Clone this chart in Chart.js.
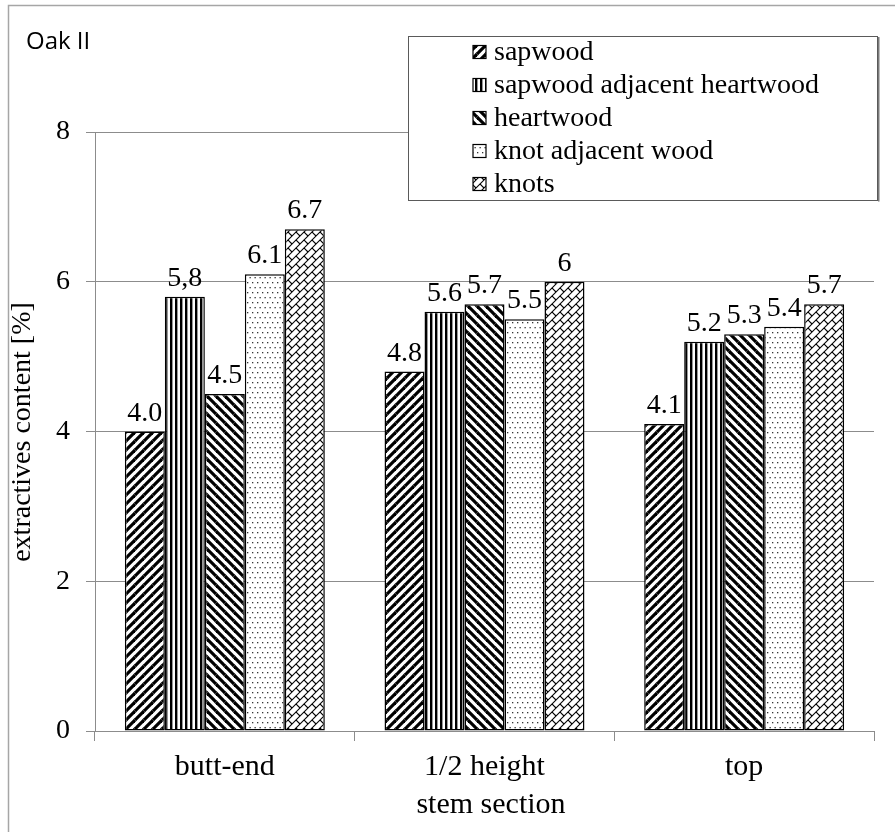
<!DOCTYPE html>
<html>
<head>
<meta charset="utf-8">
<script src="https://cdn.jsdelivr.net/npm/chart.js@4/dist/chart.umd.min.js"></script>
<style>
  html, body { margin: 0; padding: 0; background: #ffffff; }
  #wrap { position: relative; width: 895px; height: 832px; }
</style>
</head>
<body>
<div id="wrap"><canvas id="chart" width="895" height="832"></canvas></div>
<script>
// Stem sections on the x axis
const categories = ['butt-end', '1/2 height', 'top'];

// Extractives content [%] for each wood zone
const sapwood = [4.0, 4.8, 4.1];
const sapwoodAdjHeartwood = [5.8, 5.6, 5.2];
const heartwood = [4.5, 5.7, 5.3];
const knotAdjWood = [6.1, 5.5, 5.4];
const knots = [6.7, 6.0, 5.7];

// Value labels printed above the bars
const sapwoodLabels = ['4.0', '4.8', '4.1'];
const sapwoodAdjHeartwoodLabels = ['5,8', '5.6', '5.2'];
const heartwoodLabels = ['4.5', '5.7', '5.3'];
const knotAdjWoodLabels = ['6.1', '5.5', '5.4'];
const knotsLabels = ['6.7', '6', '5.7'];

// Y axis ticks
const yTicks = [0, 2, 4, 6, 8];

const SERIF = '"Liberation Serif", "Times New Roman", serif';

// ---- hatch patterns ----
function tile(size, draw) {
  const c = document.createElement('canvas');
  c.width = size; c.height = size;
  const g = c.getContext('2d');
  g.fillStyle = '#ffffff';
  g.fillRect(0, 0, size, size);
  draw(g, size);
  return c;
}
function wrapped(g, T, fn) {
  for (let dx = -T; dx <= T; dx += T)
    for (let dy = -T; dy <= T; dy += T) fn(dx, dy);
}
function makePatterns(ctx) {
  const diagUp = tile(9, (g, T) => {
    g.strokeStyle = '#000'; g.lineWidth = 3.2;
    wrapped(g, T, (dx, dy) => { g.beginPath(); g.moveTo(dx, T + dy); g.lineTo(T + dx, dy); g.stroke(); });
  });
  const vertical = tile(5, (g, T) => {
    g.fillStyle = '#000'; g.fillRect(0, 0, 2.4, T);
  });
  const diagDown = tile(9, (g, T) => {
    g.strokeStyle = '#000'; g.lineWidth = 3.2;
    wrapped(g, T, (dx, dy) => { g.beginPath(); g.moveTo(dx, dy); g.lineTo(T + dx, T + dy); g.stroke(); });
  });
  const dots = tile(10, (g, T) => {
    g.fillStyle = '#333';
    g.fillRect(2, 2, 1.3, 1.3);
    g.fillRect(7, 2, 1.3, 1.3);
    g.fillRect(4.5, 7, 1.3, 1.3);
    g.fillRect(9.5, 7, 1.3, 1.3);
    g.fillRect(-0.5, 7, 1.3, 1.3);
  });
  const bricks = tile(8, (g, T) => {
    g.strokeStyle = '#000'; g.lineWidth = 1.1;
    wrapped(g, T, (dx, dy) => {
      g.beginPath(); g.moveTo(dx, T + dy); g.lineTo(T + dx, dy); g.stroke();
      g.beginPath(); g.moveTo(dx, dy); g.lineTo(T / 2 + dx, T / 2 + dy); g.stroke();
    });
  });
  return [diagUp, vertical, diagDown, dots, bricks].map(c => ctx.createPattern(c, 'repeat'));
}

const canvas = document.getElementById('chart');
const ctx = canvas.getContext('2d');
const patterns = makePatterns(ctx);

const seriesNames = ['sapwood', 'sapwood adjacent heartwood', 'heartwood', 'knot adjacent wood', 'knots'];
const seriesValues = [sapwood, sapwoodAdjHeartwood, heartwood, knotAdjWood, knots];
const seriesLabels = [sapwoodLabels, sapwoodAdjHeartwoodLabels, heartwoodLabels, knotAdjWoodLabels, knotsLabels];

const datasets = seriesNames.map((name, i) => ({
  label: name,
  data: seriesValues[i],
  valueLabels: seriesLabels[i],
  backgroundColor: patterns[i],
  borderColor: '#000000',
  borderWidth: 1.5,
  borderSkipped: false,
  categoryPercentage: 0.77,
  barPercentage: 1.0
}));

// Frame, caption, legend, axis titles and value labels
const decorations = {
  id: 'decorations',
  afterDatasetsDraw(chart) {
    const c = chart.ctx;
    c.save();
    c.fillStyle = '#000';
    c.font = '28px ' + SERIF;
    c.textAlign = 'center';
    c.textBaseline = 'alphabetic';
    chart.data.datasets.forEach((ds, i) => {
      const meta = chart.getDatasetMeta(i);
      meta.data.forEach((bar, j) => {
        c.fillText(ds.valueLabels[j], bar.x, bar.y - 11);
      });
    });
    c.restore();
  },
  afterDraw(chart) {
    const c = chart.ctx;
    c.save();
    // outer frame
    c.strokeStyle = '#a6a6a6';
    c.lineWidth = 1.5;
    c.strokeRect(8.5, 5.5, 900, 840);

    // caption
    c.fillStyle = '#000';
    c.font = '24px "Open Sans", "Liberation Sans", sans-serif';
    c.textAlign = 'left';
    c.textBaseline = 'alphabetic';
    c.fillText('Oak II', 26, 49);

    // legend box
    c.fillStyle = '#ffffff';
    c.fillRect(408, 36, 470, 165);
    c.strokeStyle = '#5a5a5a';
    c.lineWidth = 1;
    c.strokeRect(408.5, 36.5, 469, 164);
    c.fillStyle = '#7a7a7a';
    c.fillRect(878, 37, 1.5, 164.5);

    c.font = '28px ' + SERIF;
    c.textBaseline = 'middle';
    chart.data.datasets.forEach((ds, i) => {
      const y = 52 + i * 33;
      c.fillStyle = ds.backgroundColor;
      c.fillRect(473, y - 6.5, 13, 13);
      c.strokeStyle = '#000';
      c.lineWidth = 1.2;
      c.strokeRect(473, y - 6.5, 13, 13);
      c.fillStyle = '#000';
      c.fillText(ds.label, 494, y + 1);
    });

    // axis titles
    c.font = '30px ' + SERIF;
    c.textAlign = 'center';
    c.textBaseline = 'middle';
    c.fillText('stem section', 491, 805);
    c.font = '28px ' + SERIF;
    c.translate(23, 432);
    c.rotate(-Math.PI / 2);
    c.fillText('extractives content [%]', 0, 0);
    c.restore();
  }
};

new Chart(canvas, {
  type: 'bar',
  data: { labels: categories, datasets },
  options: {
    responsive: false,
    animation: false,
    devicePixelRatio: 1,
    layout: { padding: { left: 0, right: 21, top: 132, bottom: 0 } },
    plugins: { legend: { display: false }, tooltip: { enabled: false } },
    scales: {
      x: {
        grid: { display: true, drawOnChartArea: false, color: '#8c8c8c', tickLength: 10, offset: true },
        border: { display: true, color: '#8c8c8c', width: 1 },
        ticks: { color: '#000', font: { family: SERIF, size: 30 }, padding: 8, maxRotation: 0 },
        afterFit(scale) { scale.height = 101; }
      },
      y: {
        min: 0,
        max: 8,
        afterBuildTicks(scale) { scale.ticks = yTicks.map(v => ({ value: v })); },
        grid: { color: '#8c8c8c', tickLength: 9, lineWidth: 1 },
        border: { display: true, color: '#8c8c8c', width: 1 },
        ticks: { color: '#000', font: { family: SERIF, size: 28 }, padding: 16 },
        afterFit(scale) { scale.width = 95; }
      }
    }
  },
  plugins: [decorations]
});
</script>
</body>
</html>
